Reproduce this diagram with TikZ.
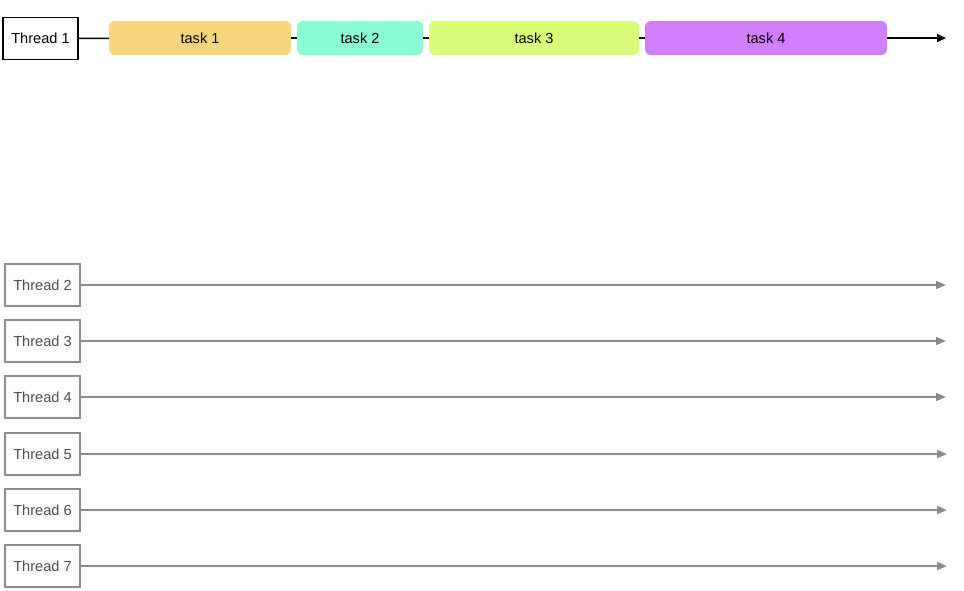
\documentclass[tikz,border=0pt]{standalone}
\usepackage{fontspec}
\setmainfont{Liberation Sans}
\usetikzlibrary{arrows.meta}
\definecolor{taskone}{HTML}{F7D57A}
\definecolor{tasktwo}{HTML}{88FCD2}
\definecolor{taskthree}{HTML}{D8FC77}
\definecolor{taskfour}{HTML}{D17EFC}
\definecolor{idlegray}{HTML}{8C8C8C}
\tikzset{
  threadbox/.style={draw, line width=1.8pt, minimum width=75pt, minimum height=42pt, inner sep=0pt, font=\fontsize{14.6}{17}\selectfont},
  idlebox/.style={threadbox, draw=idlegray, text=black!70},
  taskbox/.style={rounded corners=6pt, minimum height=34pt, inner sep=0pt, font=\fontsize{14.6}{17}\selectfont},
  busy/.style={line width=1.5pt, -{Triangle[length=9pt,width=8pt]}},
  idle/.style={line width=1.8pt, idlegray, -{Triangle[length=10pt,width=8pt]}}
}
\begin{document}
\begin{tikzpicture}[x=1pt, y=-1pt]
\useasboundingbox (0,0) rectangle (964,590);
\node[threadbox] (thread1) at (40.5,38.5) {Thread 1};
\node[taskbox, fill=taskone, minimum width=182pt] (task1) at (200,38) {task 1};
\node[taskbox, fill=tasktwo, minimum width=126pt] (task2) at (360,38) {task 2};
\node[taskbox, fill=taskthree, minimum width=210pt] (task3) at (534,38) {task 3};
\node[taskbox, fill=taskfour, minimum width=242pt] (task4) at (766,38) {task 4};
\coordinate (end1) at (946,38);
\draw[line width=1.5pt] (thread1) -- (task1);
\draw[line width=1.5pt] (task1) -- (task2);
\draw[line width=1.5pt] (task2) -- (task3);
\draw[line width=1.5pt] (task3) -- (task4);
\draw[busy] (task4) -- (end1);

\node[idlebox] (thread2) at (42.5,285) {Thread 2};
\node[idlebox] (thread3) at (42.5,341) {Thread 3};
\node[idlebox] (thread4) at (42.5,397) {Thread 4};
\node[idlebox] (thread5) at (42.5,454) {Thread 5};
\node[idlebox] (thread6) at (42.5,510) {Thread 6};
\node[idlebox] (thread7) at (42.5,566) {Thread 7};
\coordinate (end2) at (946,285);
\coordinate (end3) at (946,341);
\coordinate (end4) at (946,397);
\coordinate (end5) at (947,454);
\coordinate (end6) at (947,510);
\coordinate (end7) at (947,566);
\draw[idle] (thread2) -- (end2);
\draw[idle] (thread3) -- (end3);
\draw[idle] (thread4) -- (end4);
\draw[idle] (thread5) -- (end5);
\draw[idle] (thread6) -- (end6);
\draw[idle] (thread7) -- (end7);
\end{tikzpicture}
\end{document}
